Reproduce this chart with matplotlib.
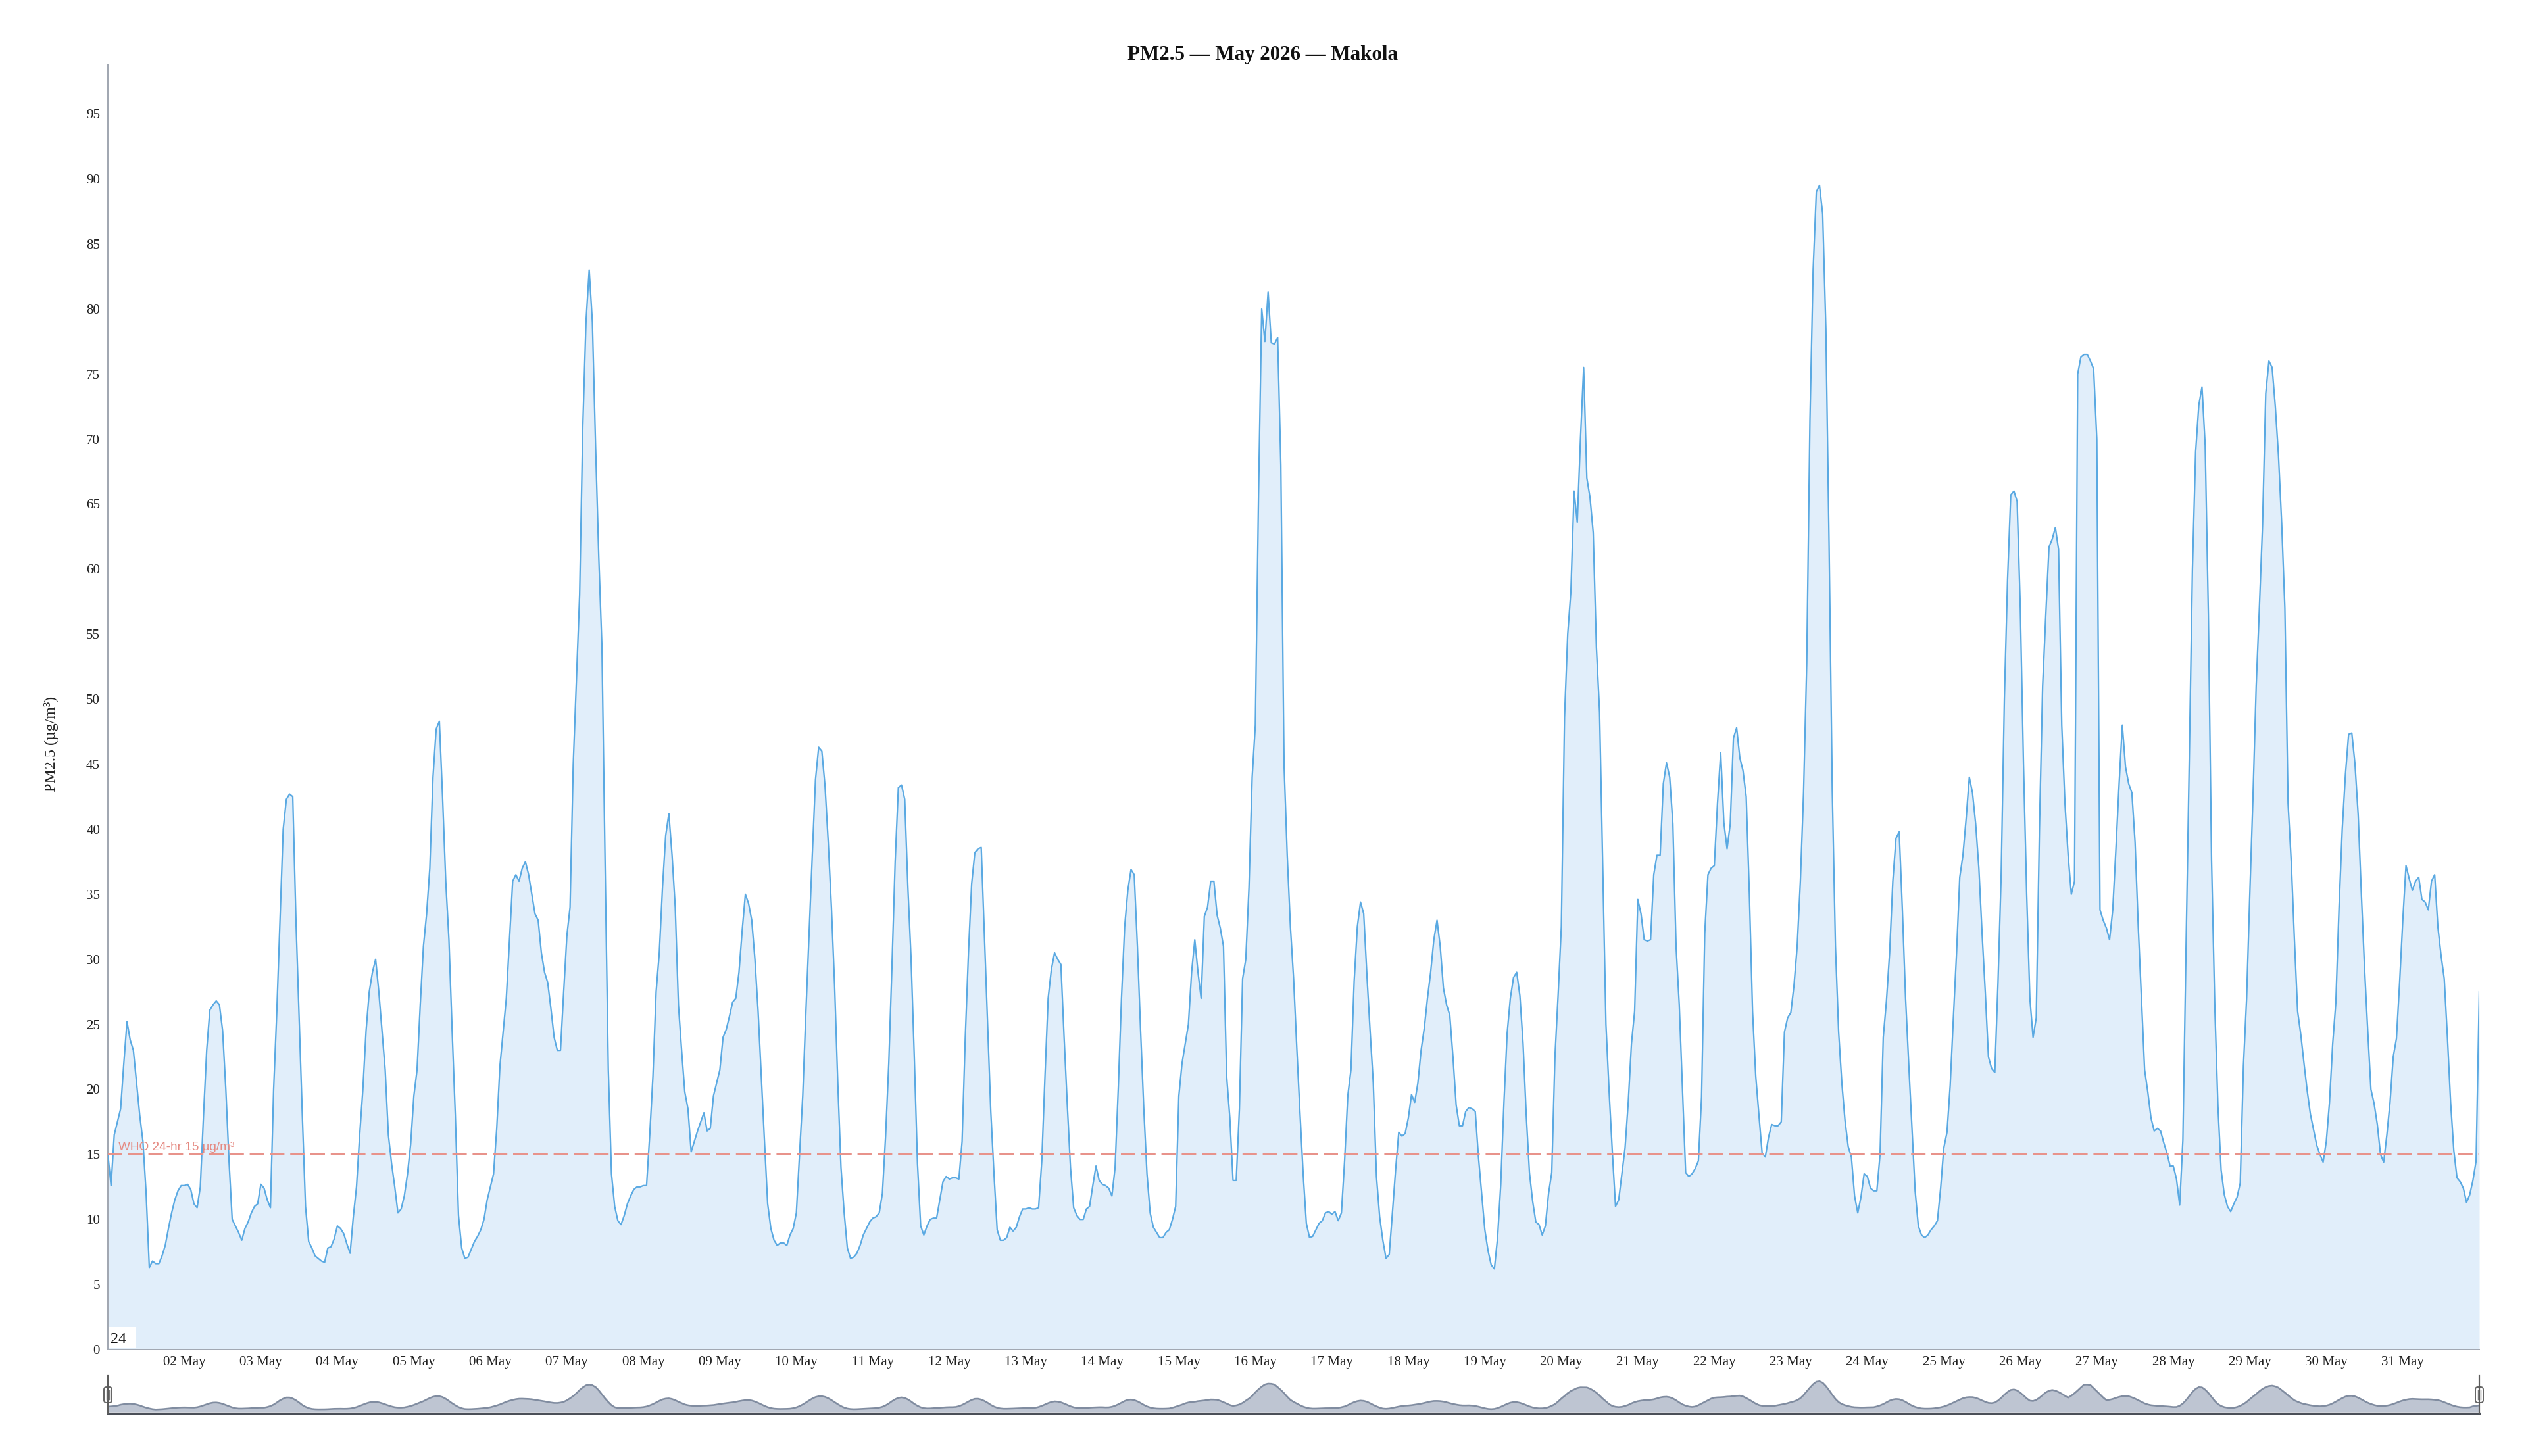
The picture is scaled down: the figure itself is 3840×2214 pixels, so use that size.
import numpy as np
import pandas as pd
import matplotlib
matplotlib.use("Agg")
import matplotlib.pyplot as plt
from matplotlib.patches import Rectangle, FancyBboxPatch
from matplotlib.lines import Line2D

# ---------------- data (hourly PM2.5, µg/m³) ----------------
d01 = [15, 12.6, 16.5, 17.5, 18.5, 22, 25.2, 23.8, 23, 20.5, 18, 16, 12, 6.3, 6.8, 6.6, 6.6, 7.2, 8, 9.3, 10.5, 11.5, 12.2, 12.6]
d02 = [12.6, 12.7, 12.3, 11.2, 10.9, 12.5, 18, 23, 26.1, 26.5, 26.8, 26.5, 24.5, 20, 14.5, 10, 9.5, 9, 8.4, 9.3, 9.8, 10.5, 11, 11.2]
d03 = [12.7, 12.4, 11.5, 10.9, 20, 26, 33, 40, 42.3, 42.7, 42.5, 33, 25.5, 18, 11, 8.3, 7.8, 7.2, 7, 6.8, 6.7, 7.8, 7.9, 8.5]
d04 = [9.5, 9.3, 8.9, 8.1, 7.4, 10.2, 12.5, 16.5, 20, 24.5, 27.5, 29, 30, 27.5, 24.5, 21.5, 16.5, 14.3, 12.5, 10.5, 10.8, 11.8, 13.5, 15.8]
d05 = [19.5, 21.5, 26.5, 31, 33.5, 37, 44, 47.7, 48.3, 42.5, 36, 31.5, 24.5, 18, 10.3, 7.8, 7, 7.1, 7.7, 8.3, 8.7, 9.2, 10, 11.5]
d06 = [12.5, 13.5, 17, 21.8, 24.4, 27, 31.5, 36, 36.5, 36, 37, 37.5, 36.5, 35, 33.5, 33, 30.5, 29, 28.2, 26.2, 24, 23, 23, 27.5]
d07 = [31.8, 34, 45, 51.5, 58, 71, 79, 83, 79, 69.5, 61, 54, 37.2, 21.5, 13.5, 11, 9.9, 9.6, 10.3, 11.2, 11.8, 12.3, 12.5, 12.5]
d08 = [12.6, 12.6, 16.5, 21, 27.5, 30.5, 35.5, 39.5, 41.2, 38, 34, 26.5, 23, 19.8, 18.5, 15.2, 16, 16.8, 17.5, 18.2, 16.8, 17, 19.5, 20.5]
d09 = [21.5, 24, 24.6, 25.6, 26.7, 27, 29, 32.2, 35, 34.3, 33, 30, 26, 21, 16, 11.2, 9.3, 8.4, 8, 8.2, 8.2, 8, 8.8, 9.3]
d10 = [10.5, 15, 19.5, 26, 32, 38, 43.8, 46.3, 46, 43.3, 39, 34, 28, 20.5, 14, 10.5, 7.8, 7, 7.1, 7.4, 8, 8.8, 9.3, 9.8]
d11 = [10.1, 10.2, 10.5, 12, 16.4, 22, 29.5, 37.5, 43.2, 43.4, 42.3, 35.5, 30, 22.5, 14.3, 9.5, 8.8, 9.5, 10, 10.1, 10.1, 11.5, 12.9, 13.3]
d12 = [13.1, 13.2, 13.2, 13.1, 16, 24, 30.5, 35.8, 38.2, 38.5, 38.6, 31.8, 25, 18.3, 13.5, 9.2, 8.4, 8.4, 8.6, 9.4, 9.1, 9.4, 10.2, 10.8]
d13 = [10.8, 10.9, 10.8, 10.8, 10.9, 14.5, 21, 27, 29.2, 30.5, 30, 29.6, 24, 18.8, 14, 10.9, 10.3, 10, 10, 10.8, 11, 12.6, 14.1, 13]
d14 = [12.7, 12.6, 12.4, 11.8, 14, 20.1, 27, 32.5, 35.3, 36.9, 36.5, 31, 24.5, 18.5, 13.5, 10.5, 9.4, 9, 8.6, 8.6, 9, 9.2, 10, 11]
d15 = [19.5, 22, 23.5, 25, 29, 31.5, 29, 27, 33.3, 34, 36, 36, 33.4, 32.4, 31, 21, 17.8, 13, 13, 18.5, 28.5, 30, 35.5, 44]
d16 = [48, 65.7, 80, 77.5, 81.3, 77.4, 77.3, 77.8, 68, 45, 38, 32.5, 28.5, 23.2, 18.2, 13.5, 9.7, 8.6, 8.7, 9.2, 9.7, 9.9, 10.5, 10.6]
d17 = [10.4, 10.6, 9.9, 10.5, 14.5, 19.5, 21.5, 28.3, 32.5, 34.4, 33.5, 28.8, 24.5, 20.5, 13.3, 10.2, 8.4, 7, 7.3, 10.5, 13.8, 16.7, 16.4, 16.6]
d18 = [17.8, 19.6, 19, 20.5, 23, 24.7, 27, 29, 31.5, 33, 31, 27.8, 26.5, 25.7, 22.5, 18.8, 17.2, 17.2, 18.3, 18.6, 18.5, 18.3, 14.8, 12]
d19 = [9.2, 7.6, 6.5, 6.2, 8.6, 12.7, 19, 24.3, 27, 28.6, 29, 27.2, 23.5, 18, 13.6, 11.4, 9.8, 9.6, 8.8, 9.5, 12, 13.6, 22.5, 27.3]
d20 = [32.5, 48.6, 55, 58.3, 66, 63.6, 70, 75.5, 67, 65.5, 62.8, 54, 49, 37, 25, 19.8, 15.2, 11, 11.5, 13.5, 15.5, 19, 23.5, 26]
d21 = [34.6, 33.5, 31.5, 31.4, 31.5, 36.5, 38, 38, 43.5, 45.1, 44, 40.4, 31, 26.5, 20, 13.6, 13.3, 13.5, 13.9, 14.5, 19.4, 32, 36.5, 37]
d22 = [37.2, 42, 45.9, 40.5, 38.5, 40.4, 47, 47.8, 45.5, 44.5, 42.5, 35, 26, 21, 18, 15.1, 14.8, 16.3, 17.3, 17.2, 17.2, 17.5, 24.4, 25.5]
d23 = [25.9, 28, 31, 36, 42.8, 52.8, 71.4, 83, 89, 89.5, 87.3, 78.5, 62, 43, 31, 24.4, 20.5, 17.6, 15.6, 14.8, 11.8, 10.5, 11.7, 13.5]
d24 = [13.3, 12.4, 12.2, 12.2, 15, 24, 26.8, 30.5, 36, 39.3, 39.8, 33.8, 27, 21.9, 17, 12.2, 9.5, 8.8, 8.6, 8.8, 9.2, 9.5, 9.9, 12.4]
d25 = [15.5, 16.7, 20.3, 25.5, 30.5, 36.3, 38, 40.8, 44, 42.8, 40.4, 37, 32, 27.5, 22.5, 21.6, 21.3, 28.2, 36.5, 50, 59.2, 65.7, 66, 65.2]
d26 = [57, 45, 35, 27, 24, 25.5, 40, 51, 56.5, 61.7, 62.3, 63.2, 61.5, 48, 42, 38, 35, 36, 75, 76.3, 76.5, 76.5, 76, 75.4]
d27 = [70, 33.8, 33, 32.4, 31.5, 33.8, 38.5, 43.5, 48, 44.8, 43.5, 42.8, 39, 32.5, 27, 21.5, 19.8, 17.8, 16.8, 17, 16.8, 15.9, 15.1, 14.1]
d28 = [14.1, 13.1, 11.1, 16.1, 31, 45.2, 60, 69, 72.6, 74, 69.5, 56.5, 37.6, 26.5, 18.7, 13.8, 11.9, 11, 10.6, 11.2, 11.7, 12.8, 21.8, 27]
d29 = [35, 42.5, 51, 57, 63.4, 73.5, 76, 75.5, 72.5, 68.7, 63.5, 57, 42, 37.5, 31.5, 26, 24.2, 22, 19.9, 18.1, 16.9, 15.7, 15, 14.4]
d30 = [16, 19, 23.5, 26.7, 34, 40, 44.2, 47.3, 47.4, 45, 41.1, 35, 29.3, 24.5, 20, 18.9, 17.3, 15, 14.4, 16.5, 19, 22.5, 23.9, 28.2]
d31 = [33, 37.2, 36.2, 35.3, 36, 36.3, 34.6, 34.4, 33.8, 36, 36.5, 32.5, 30.3, 28.5, 24, 19, 15.3, 13.2, 12.9, 12.4, 11.3, 11.9, 13, 14.5]
end_value = [27.5]

days = [d01, d02, d03, d04, d05, d06, d07, d08, d09, d10, d11, d12, d13, d14, d15, d16,
        d17, d18, d19, d20, d21, d22, d23, d24, d25, d26, d27, d28, d29, d30, d31]
pm25 = np.array(sum(days, []) + end_value, dtype=float)
times = pd.date_range("2026-05-01 00:00", periods=len(pm25), freq="h")

tick_days = pd.date_range("2026-05-02", "2026-05-31", freq="D")
tick_labels = [t.strftime("%d May") for t in tick_days]
y_ticks = list(range(0, 100, 5))
who_limit = 15
who_label = "WHO 24-hr 15 µg/m³"
title = "PM2.5 — May 2026 — Makola"
y_title = "PM2.5 (µg/m³)"
y_max = 98.8

# ---------------- layout ----------------
W, H, DPI = 3840, 2214, 100
PT = 72.0 / DPI          # points per pixel
fig = plt.figure(figsize=(W / DPI, H / DPI), dpi=DPI)
fig.patch.set_facecolor("white")

def fx(px): return px / W
def fy(py): return 1 - py / H

L, R, T, B = 164, 3769, 98, 2052
SERIF = ["Liberation Serif", "DejaVu Serif"]
SANS = ["Liberation Sans", "DejaVu Sans"]

ax = fig.add_axes([fx(L), fy(B), (R - L) / W, (B - T) / H])
ax.fill_between(times, pm25, 0, color="#e1eefa", linewidth=0, zorder=1)
ax.plot(times, pm25, color="#5aa9e2", lw=2.3 * PT, zorder=3)
ax.axhline(who_limit, color="#e8938b", lw=2.2 * PT, dashes=(10, 4), zorder=4)
ax.text((180 - L) / (R - L), who_limit + 0.3, who_label, transform=ax.get_yaxis_transform(),
        fontsize=19 * PT, color="#e58a82", family=SANS, va="baseline", ha="left", zorder=5)

ax.set_xlim(times[0], times[-1])
ax.set_ylim(0, y_max)
ax.set_xticks(tick_days)
ax.set_xticklabels(tick_labels)
ax.set_yticks(y_ticks)
ax.set_yticklabels([str(v) for v in y_ticks])
for s in ("top", "right"):
    ax.spines[s].set_visible(False)
for s in ("left", "bottom"):
    ax.spines[s].set_color("#a2a8b2")
    ax.spines[s].set_linewidth(2 * PT)
ax.tick_params(axis="both", length=0, labelsize=21 * PT, labelcolor="#222222")
ax.tick_params(axis="x", pad=10 * PT)
ax.tick_params(axis="y", pad=12 * PT)
for lab in ax.get_xticklabels() + ax.get_yticklabels():
    lab.set_family(SERIF)

fig.text(0.5, fy(84), title, ha="center", va="center", fontsize=31 * PT,
         fontweight="bold", family=SERIF, color="#111111")
fig.text(fx(78), fy(1131), y_title, rotation=90, ha="center", va="center",
         fontsize=24 * PT, family=SERIF, color="#222222")

# ---------------- data-zoom slider ----------------
SL_T, SL_B = 2093, 2147
sl = fig.add_axes([fx(L), fy(SL_B), (R - L) / W, (SL_B - SL_T) / H])
shadow = pd.Series(pm25).rolling(5, center=True, min_periods=1).mean().values
sl.fill_between(times, shadow, 0, color="#bec5d2", linewidth=0)
sl.plot(times, shadow, color="#808ca0", lw=2.6 * PT)
sl.set_xlim(times[0], times[-1])
sl.set_ylim(0, y_max)
sl.axis("off")

# overlay in pixel coordinates for decorations
ov = fig.add_axes([0, 0, 1, 1], zorder=10)
ov.set_xlim(0, W)
ov.set_ylim(H, 0)
ov.axis("off")
ov.add_line(Line2D([L, R], [2148.5, 2148.5], color="#4b4f58", lw=3.2 * PT))
for xp in (L, R):
    ov.add_line(Line2D([xp, xp], [2092, 2149], color="#5c5c5c", lw=2.2 * PT))
    ov.add_patch(FancyBboxPatch((xp - 6, 2109), 12, 24,
                                boxstyle="round,pad=0,rounding_size=4",
                                facecolor="white", edgecolor="#666666", lw=2 * PT))
    for dx in (-1.8, 1.8):
        ov.add_line(Line2D([xp + dx, xp + dx], [2114, 2128], color="#777777", lw=1.4 * PT))

# small "24" box at the bottom-left corner of the plot
ov.add_patch(Rectangle((166, 2018), 41, 32, facecolor="white", edgecolor="none"))
ov.text(168, 2042, "24", fontsize=24 * PT, family=SERIF, color="#111111",
        ha="left", va="baseline")

fig.savefig("out.png", dpi=DPI, facecolor="white")
